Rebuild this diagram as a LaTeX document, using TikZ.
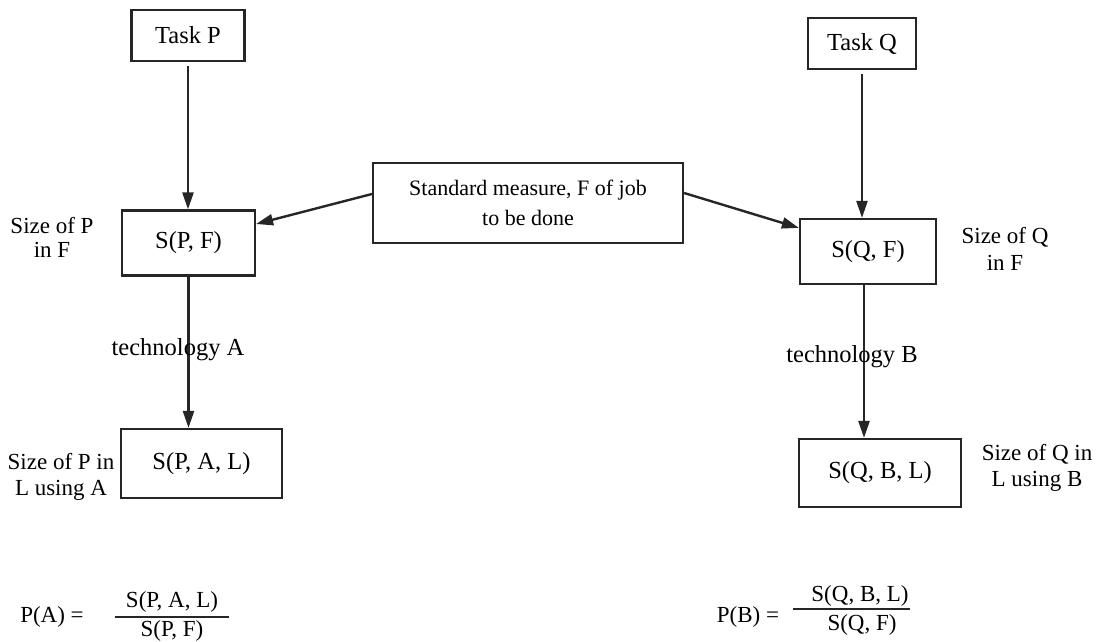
\documentclass[tikz,border=0pt]{standalone}
\usepackage{fontspec}
\setmainfont{Liberation Serif}
\usetikzlibrary{arrows.meta}
\begin{document}
\begin{tikzpicture}[x=1pt,y=-1pt,
  box/.style={draw=black!85, line width=2.2pt, inner sep=0pt, font=\fontsize{24.5}{24}\selectfont},
  lbl/.style={align=center, font=\fontsize{23}{26.5}\selectfont, inner sep=0pt},
  arr/.style={draw=black!85, line width=2.4pt, -{Triangle[length=17pt,width=11pt]}},
  bar/.style={draw=black!85, line width=1.8pt}]
\useasboundingbox (0,0) rectangle (1098,642);
% boxes
\node[box, minimum width=113pt, minimum height=51pt] (taskP) at (188,35.5) {Task P};
\node[box, minimum width=133pt, minimum height=65pt] (sPF) at (188.5,243) {S(P, F)};
\node[box, minimum width=310pt, minimum height=80pt, align=center,
      font=\fontsize{22}{30}\selectfont] (std) at (528,203) {Standard measure, F of job\\to be done};
\node[box, minimum width=108pt, minimum height=51pt] (taskQ) at (862,43.5) {Task Q};
\node[box, minimum width=136pt, minimum height=65pt] (sQF) at (868,251.5) {S(Q, F)};
\node[box, minimum width=161pt, minimum height=69pt] (sPAL) at (201.5,463.5) {S(P, A, L)};
\node[box, minimum width=162pt, minimum height=68pt] (sQBL) at (880,473) {S(Q, B, L)};
% side labels
\node[lbl, font=\fontsize{23}{24}\selectfont] (lsP) at (52,237) {Size of P\\in F};
\node[lbl] (lsQ) at (1005,249) {Size of Q\\in F};
\node[lbl] (lPA) at (61,477) {Size of P in\\L using A};
\node[lbl] (lQB) at (1037,468) {Size of Q in\\L using B};
% connectors
\draw[arr, shorten <=4pt] (taskP.south) -- (taskP.south |- sPF.north);
\draw[arr, shorten <=4pt] (taskQ.south) -- (taskQ.south |- sQF.north);
\draw[arr] (sPF.south) -- (sPF.south |- sPAL.north);
\draw[arr] ([xshift=-4pt]sQF.south) -- ([xshift=-4pt]sQF.south |- sQBL.north);
\draw[arr] ([yshift=9pt]std.west) -- ([yshift=19pt]sPF.east);
\draw[arr] ([yshift=10pt]std.east) -- ([yshift=-10pt]sQF.north west);
% technology labels (over the lines)
\node[lbl, font=\fontsize{24.5}{24}\selectfont] (tA) at (178,350) {technology A};
\node[lbl, font=\fontsize{24.5}{24}\selectfont] (tB) at (852,357) {technology B};
% formulas
\node[lbl] (pA) at (52,617) {P(A) =};
\node[lbl] (pAn) at (172,602) {S(P, A, L)};
\node[lbl] (pAd) at (172,631) {S(P, F)};
\coordinate (pAb1) at (115,617);
\coordinate (pAb2) at (229,617);
\draw[bar] (pAb1) -- (pAb2);
\node[lbl] (pB) at (748,617) {P(B) =};
\node[lbl] (pBn) at (860,596) {S(Q, B, L)};
\node[lbl] (pBd) at (862,625) {S(Q, F)};
\coordinate (pBb1) at (793,609);
\coordinate (pBb2) at (910,609);
\draw[bar] (pBb1) -- (pBb2);
\end{tikzpicture}
\end{document}
